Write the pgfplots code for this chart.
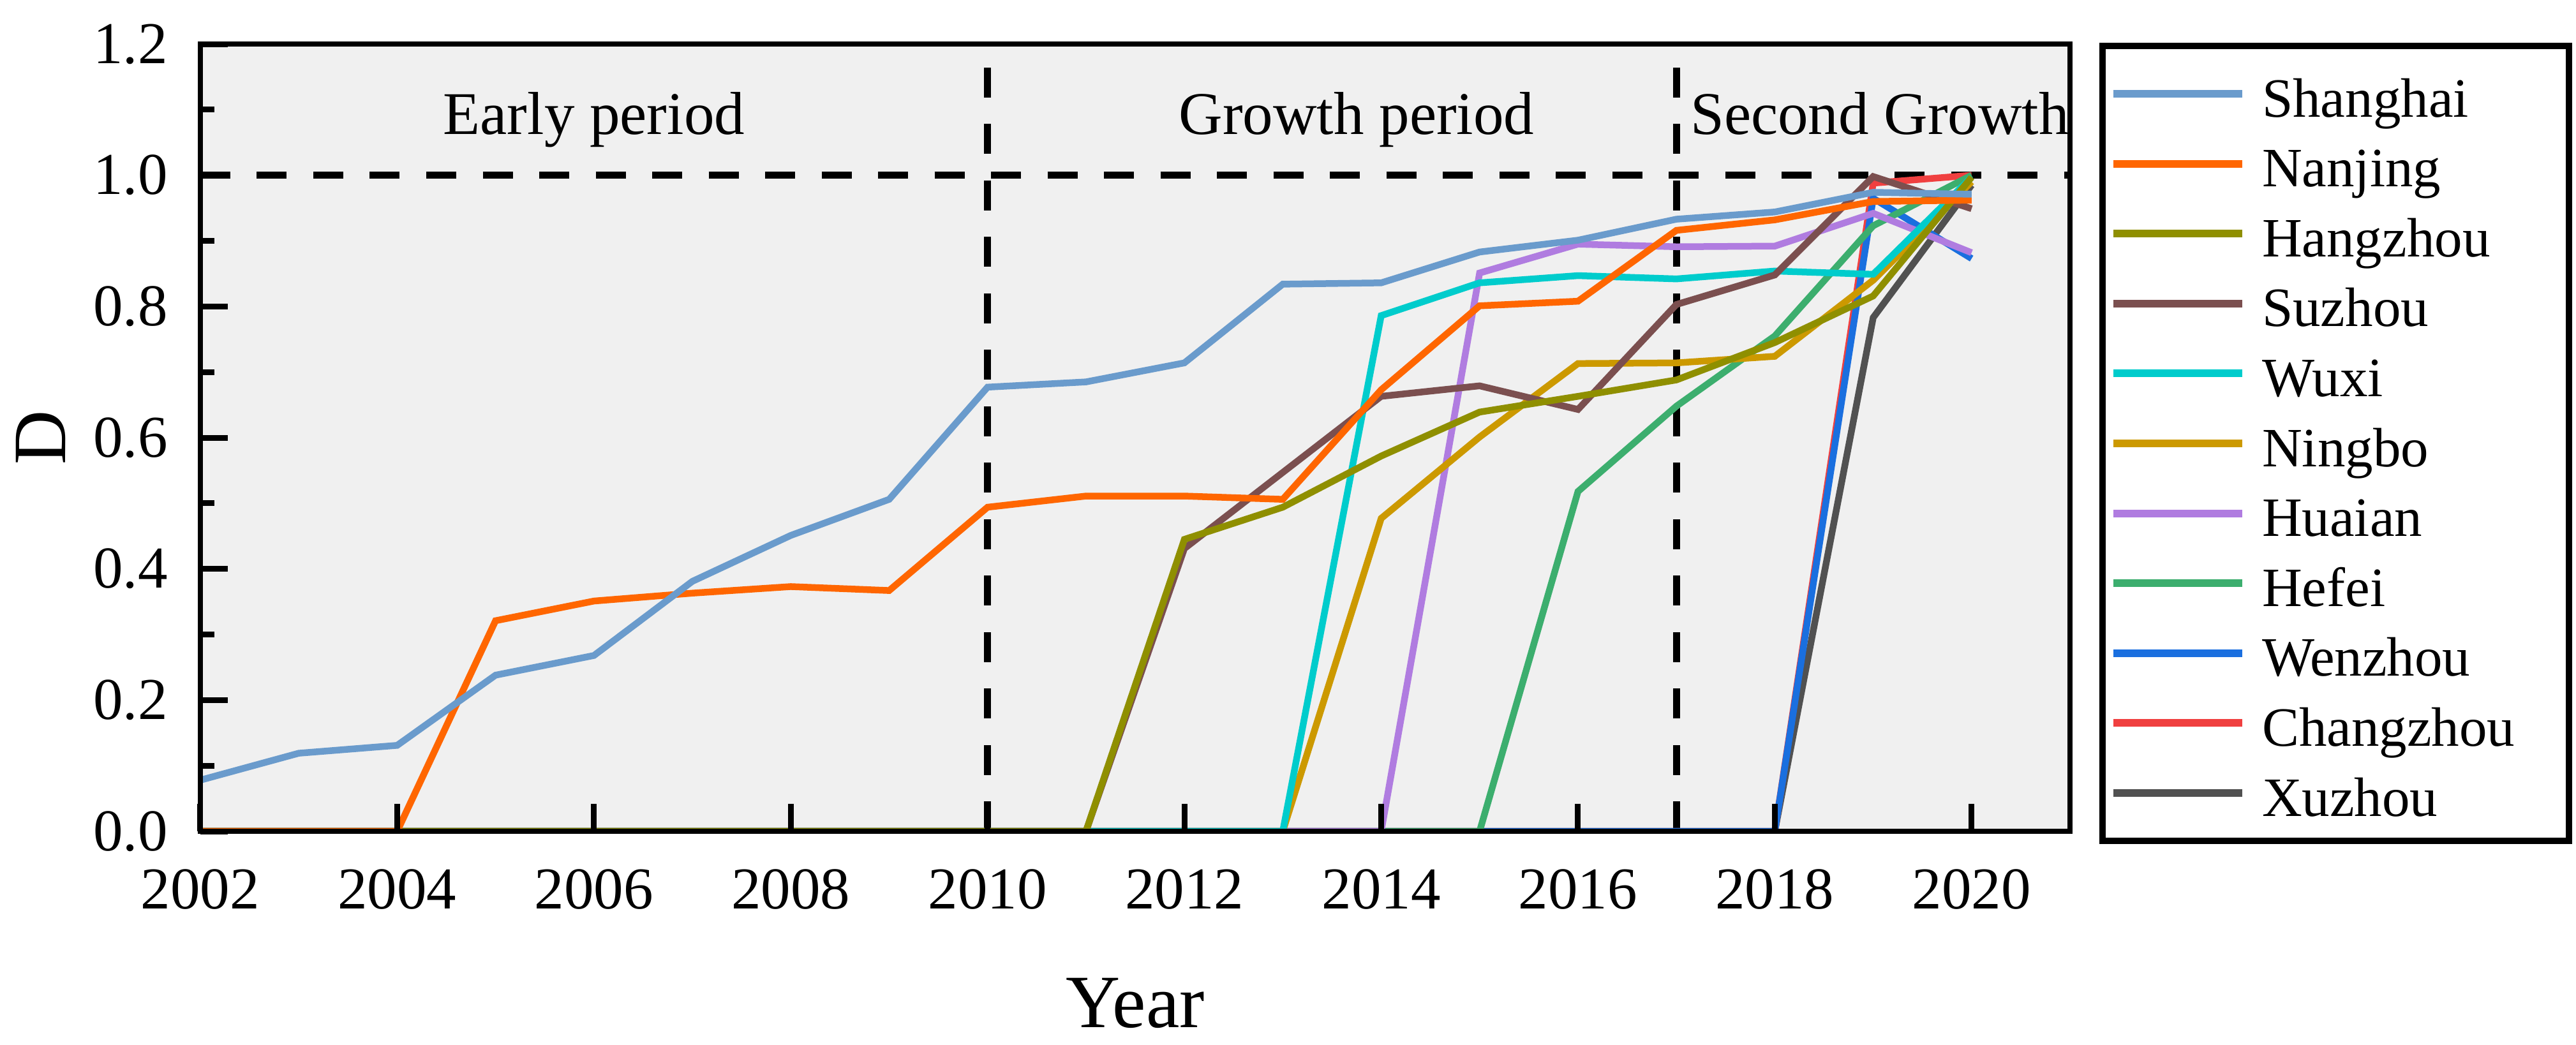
\documentclass[border=0pt]{standalone}
\usepackage{pgfplots}
\usepackage{pgfplotstable}
\pgfplotsset{compat=1.18}
\usepackage{fontspec}
\setmainfont{Liberation Serif}

\definecolor{cSH}{HTML}{6A9BCC}
\definecolor{cNJ}{HTML}{FF6600}
\definecolor{cHZ}{HTML}{8F8F00}
\definecolor{cSZ}{HTML}{7B4F4F}
\definecolor{cWX}{HTML}{00CCCC}
\definecolor{cNB}{HTML}{CC9900}
\definecolor{cHA}{HTML}{B07CE0}
\definecolor{cHF}{HTML}{3CAE6E}
\definecolor{cWZ}{HTML}{1A6FDF}
\definecolor{cCZ}{HTML}{F04040}
\definecolor{cXZ}{HTML}{515151}
\definecolor{bg}{HTML}{F0F0F0}

\pgfplotstableread{
year  SH    NJ    HZ    SZ    WX    NB    HA    HF    WZ    CZ    XZ
2002  0.078 0     0     0     0     0     0     0     0     0     0
2003  0.119 0     0     0     0     0     0     0     0     0     0
2004  0.131 0     0     0     0     0     0     0     0     0     0
2005  0.238 0.321 0     0     0     0     0     0     0     0     0
2006  0.268 0.351 0     0     0     0     0     0     0     0     0
2007  0.381 0.363 0     0     0     0     0     0     0     0     0
2008  0.451 0.373 0     0     0     0     0     0     0     0     0
2009  0.506 0.367 0     0     0     0     0     0     0     0     0
2010  0.677 0.494 0     0     0     0     0     0     0     0     0
2011  0.685 0.511 0     0     0     0     0     0     0     0     0
2012  0.714 0.511 0.445 0.431 0     0     0     0     0     0     0
2013  0.834 0.506 0.494 0.547 0     0     0     0     0     0     0
2014  0.836 0.673 0.572 0.663 0.786 0.477 0     0     0     0     0
2015  0.883 0.801 0.639 0.679 0.836 0.601 0.851 0     0     0     0
2016  0.901 0.808 0.663 0.643 0.847 0.713 0.895 0.518 0     0     0
2017  0.933 0.916 0.688 0.803 0.842 0.714 0.891 0.648 0     0     0
2018  0.944 0.932 0.745 0.848 0.854 0.724 0.892 0.755 0     0     0
2019  0.974 0.960 0.816 0.998 0.849 0.840 0.942 0.923 0.965 0.988 0.783
2020  0.971 0.962 0.997 0.949 0.997 0.990 0.882 1.000 0.873 1.000 0.985
}\citydata

\newcommand{\legbox}[1]{\makebox[47pt][l]{#1}}

\begin{document}
\begin{tikzpicture}
\useasboundingbox (-31.4pt,-33.4pt) rectangle (372.3pt,130.3pt);
\begin{axis}[
    at={(0pt,0pt)}, anchor=south west,
    scale only axis,
    width=293pt, height=123.4pt,
    xmin=2002, xmax=2021,
    ymin=0, ymax=1.2,
    axis background/.style={fill=bg},
    axis line style={line width=0.87pt},
    axis on top,
    tick pos=left,
    tick align=inside,
    xtick={2002,2004,...,2020},
    ytick={0,0.2,0.4,0.6,0.8,1.0,1.2},
    minor x tick num=1,
    minor y tick num=1,
    major tick length=4.3pt,
    minor tick length=2.2pt,
    every tick/.style={line width=0.9pt, black},
    /pgf/number format/assume math mode=true,
    xticklabel={\pgfmathprintnumber[1000 sep={}]{\tick}},
    yticklabel={\pgfmathprintnumber[fixed,fixed zerofill,precision=1]{\tick}},
    ticklabel style={font=\fontsize{9.3}{11}\selectfont},
    xticklabel style={yshift=-2.4pt},
    yticklabel style={xshift=-1.6pt},
    xlabel={Year},
    ylabel={D},
    label style={font=\fontsize{11.8}{14}\selectfont},
    xlabel style={at={([yshift=-30.7pt]axis description cs:0.5,0)}, anchor=base},
    ylabel style={at={([xshift=-25pt]axis description cs:0,0.5)}, anchor=center},
    every axis plot/.append style={line width=1.05pt, no markers},
    reverse legend,
    legend image code/.code={\draw[#1, line width=1.2pt] (0pt,0pt) -- (20.2pt,0pt);},
    legend style={
        at={([xshift=4.6pt, yshift=0.2pt]rel axis cs:1,1)}, anchor=north west,
        draw=black, line width=1pt, fill=white,
        inner xsep=1.1pt, inner ysep=2pt,
        row sep=-0.04pt, column sep=2.5pt,
        font=\fontsize{8.7}{10}\selectfont,
        nodes={inner sep=0pt, text height=9.1pt, text depth=1.9pt},
    },
    legend cell align=left,
]
% reference lines
\addplot[forget plot, black, line width=1.1pt, dash pattern=on 4.7pt off 4.15pt] coordinates {(2002,1) (2021,1)};
\addplot[forget plot, black, line width=1.1pt, dash pattern=on 4.7pt off 4.15pt] coordinates {(2010,0) (2010,1.2)};
\addplot[forget plot, black, line width=1.1pt, dash pattern=on 4.7pt off 4.15pt] coordinates {(2017,0) (2017,1.2)};

% cities, last one first so that Shanghai lies on top
\addplot[cXZ] table[x=year, y=XZ] {\citydata}; \addlegendentry{\legbox{Xuzhou}}
\addplot[cCZ] table[x=year, y=CZ] {\citydata}; \addlegendentry{\legbox{Changzhou}}
\addplot[cWZ] table[x=year, y=WZ] {\citydata}; \addlegendentry{\legbox{Wenzhou}}
\addplot[cHF] table[x=year, y=HF] {\citydata}; \addlegendentry{\legbox{Hefei}}
\addplot[cHA] table[x=year, y=HA] {\citydata}; \addlegendentry{\legbox{Huaian}}
\addplot[cNB] table[x=year, y=NB] {\citydata}; \addlegendentry{\legbox{Ningbo}}
\addplot[cWX] table[x=year, y=WX] {\citydata}; \addlegendentry{\legbox{Wuxi}}
\addplot[cSZ] table[x=year, y=SZ] {\citydata}; \addlegendentry{\legbox{Suzhou}}
\addplot[cHZ] table[x=year, y=HZ] {\citydata}; \addlegendentry{\legbox{Hangzhou}}
\addplot[cNJ] table[x=year, y=NJ] {\citydata}; \addlegendentry{\legbox{Nanjing}}
\addplot[cSH] table[x=year, y=SH] {\citydata}; \addlegendentry{\legbox{Shanghai}}

\node[anchor=base, inner sep=0pt, font=\fontsize{9.5}{11}\selectfont] at (axis cs:2006,1.062) {Early period};
\node[anchor=base, inner sep=0pt, font=\fontsize{9.5}{11}\selectfont] at (axis cs:2013.75,1.062) {Growth period};
\node[anchor=base west, inner sep=0pt, font=\fontsize{9.5}{11}\selectfont] at (axis cs:2017.13,1.062) {Second Growth};
\end{axis}
\end{tikzpicture}
\end{document}
